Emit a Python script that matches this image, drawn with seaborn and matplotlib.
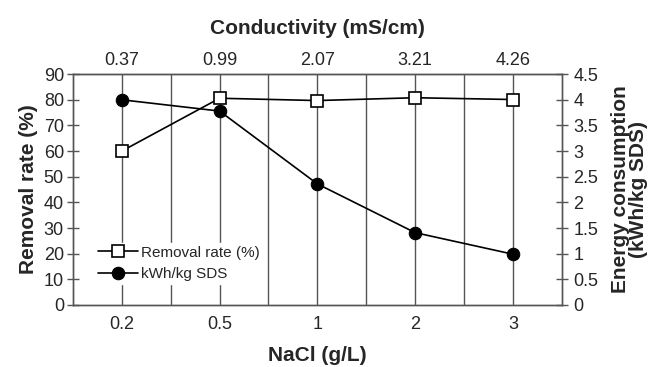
import numpy as np
import pandas as pd
import matplotlib
matplotlib.use("Agg")
import matplotlib.pyplot as plt
import seaborn as sns
from matplotlib.ticker import MultipleLocator, FixedLocator

# data
nacl = ["0.2", "0.5", "1", "2", "3"]
conductivity = ["0.37", "0.99", "2.07", "3.21", "4.26"]
removal_rate = [60, 80.6, 79.7, 80.8, 80.1]
energy = [4.0, 3.78, 2.36, 1.41, 0.99]

df = pd.DataFrame({"pos": np.arange(len(nacl)), "removal": removal_rate, "energy": energy})

sns.set_style("white")
plt.rcParams["font.family"] = ["Liberation Sans", "DejaVu Sans"]
plt.rcParams["font.size"] = 13

fig, ax = plt.subplots(figsize=(6.51, 3.67), dpi=100)
fig.subplots_adjust(left=0.112, right=0.863, top=0.798, bottom=0.169)
ax2 = ax.twinx()

line_col = "#555555"
label_kw = dict(fontsize=15, fontweight="bold")

# vertical grid at categories and halfway between them
ax.set_xlim(-0.5, 4.5)
ax.xaxis.set_major_locator(FixedLocator(df["pos"]))
ax.xaxis.set_minor_locator(FixedLocator(df["pos"][:-1] + 0.5))
ax.grid(True, which="both", axis="x", color=line_col, lw=1)
ax.grid(False, axis="y")

sns.lineplot(data=df, x="pos", y="removal", ax=ax, color="black", lw=1.2,
             marker="s", markersize=8, markerfacecolor="white",
             markeredgecolor="black", markeredgewidth=1.2, label="Removal rate (%)",
             legend=False, zorder=4)
sns.lineplot(data=df, x="pos", y="energy", ax=ax2, color="black", lw=1.2,
             marker="o", markersize=9, markerfacecolor="black",
             markeredgecolor="black", label="kWh/kg SDS", legend=False, zorder=4)

ax.set_xlim(-0.5, 4.5)
ax.set_xticks(df["pos"])
ax.set_xticklabels(nacl)
ax.set_ylim(0, 90)
ax.yaxis.set_major_locator(MultipleLocator(10))
ax.set_ylabel("Removal rate (%)", labelpad=4, **label_kw)
ax.set_xlabel("NaCl (g/L)", labelpad=9, **label_kw)
ax.tick_params(axis="y", direction="inout", length=9, width=1, color=line_col, pad=2)
ax.tick_params(axis="x", which="both", length=0, pad=8)

ax2.set_ylim(0, 4.5)
ax2.yaxis.set_major_locator(MultipleLocator(0.5))
ax2.yaxis.set_major_formatter(lambda v, p: f"{v:g}")
ax2.tick_params(axis="y", direction="inout", length=9, width=1, color=line_col, pad=4)
ax2.set_ylabel("Energy consumption\n(kWh/kg SDS)", labelpad=9, linespacing=0.92, **label_kw)

top = ax.secondary_xaxis("top")
top.set_xticks(df["pos"])
top.set_xticklabels(conductivity)
top.tick_params(axis="x", length=0, pad=4)
top.set_xlabel("Conductivity (mS/cm)", labelpad=13, **label_kw)

for a in (ax, ax2):
    for s in a.spines.values():
        s.set_color(line_col)
        s.set_linewidth(1)
top.spines["top"].set_color(line_col)

h1, l1 = ax.get_legend_handles_labels()
h2, l2 = ax2.get_legend_handles_labels()
leg = ax2.legend(h1 + h2, l1 + l2, loc="center left", bbox_to_anchor=(0.03, 0.18),
                 frameon=True, fontsize=11, handlelength=2.6, handletextpad=0.2,
                 labelspacing=0.5, borderpad=0.2, fancybox=False, edgecolor="white",
                 framealpha=1)
leg.set_zorder(10)

fig.savefig("out.png", dpi=100)
